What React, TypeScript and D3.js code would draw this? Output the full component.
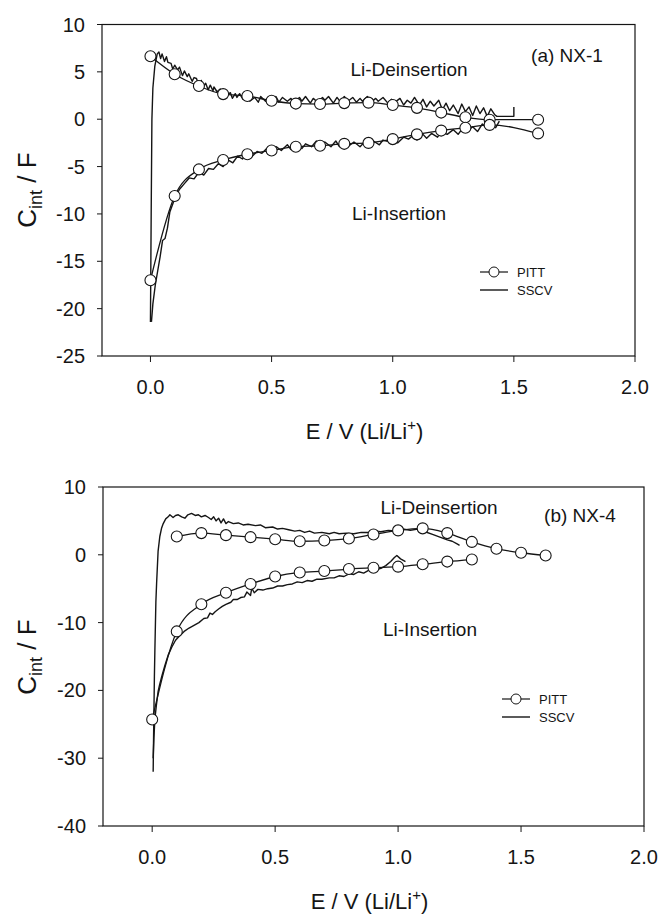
import React from 'react';
import * as d3 from 'd3';

type Pt = [number, number];

// x axis (shared)
const E_TICKS = [0, 0.5, 1.0, 1.5, 2.0];

// panel (a) NX-1
const A_Y_TICKS = [10, 5, 0, -5, -10, -15, -20, -25];
const A_PITT_E = [0, 0.1, 0.2, 0.3, 0.4, 0.5, 0.6, 0.7, 0.8, 0.9, 1.0, 1.1, 1.2, 1.3, 1.4, 1.6];
const A_PITT_DEINS = [6.65, 4.75, 3.5, 2.65, 2.45, 1.95, 1.65, 1.6, 1.7, 1.75, 1.5, 1.2, 0.7, 0.2, -0.05, -0.05];
const A_PITT_INS = [-17.0, -8.1, -5.3, -4.3, -3.7, -3.3, -2.9, -2.8, -2.6, -2.5, -2.1, -1.6, -1.2, -0.9, -0.6, -1.5];
const A_SSCV_DEINS: Pt[] = [
  [0.0, -21.4], [0.003, -10], [0.006, 0], [0.01, 3.3], [0.018, 5.6], [0.028, 6.9], [0.035, 7.1],
  [0.042, 6.4], [0.048, 6.9], [0.058, 6.1], [0.066, 6.6], [0.072, 6.0], [0.085, 5.9], [0.092, 5.3],
  [0.1, 5.7], [0.112, 5.2], [0.12, 5.5], [0.132, 4.6], [0.14, 5.1], [0.152, 4.5], [0.158, 4.8],
  [0.172, 4.0], [0.18, 4.4], [0.19, 4.3], [0.198, 3.7], [0.21, 4.1], [0.217, 3.4], [0.228, 3.8],
  [0.238, 3.1], [0.247, 3.6], [0.258, 3.0], [0.262, 3.4], [0.275, 2.9], [0.288, 3.2], [0.296, 2.5],
  [0.31, 3.0], [0.318, 2.6], [0.33, 2.8], [0.338, 2.2], [0.35, 2.7], [0.357, 2.3], [0.368, 2.7],
  [0.382, 2.1], [0.4, 2.5], [0.41, 1.9], [0.43, 2.3], [0.445, 1.8], [0.455, 2.4], [0.475, 1.9],
  [0.49, 2.2], [0.5, 1.7], [0.518, 2.4], [0.53, 1.8], [0.545, 2.3], [0.565, 1.9], [0.58, 2.2],
  [0.59, 1.7], [0.615, 2.3], [0.625, 1.9], [0.64, 2.4], [0.66, 1.7], [0.672, 2.2], [0.69, 1.8],
  [0.71, 2.3], [0.72, 2.0], [0.735, 2.4], [0.755, 1.7], [0.77, 2.3], [0.785, 1.8], [0.8, 2.4],
  [0.815, 1.9], [0.835, 2.3], [0.85, 1.8], [0.865, 2.2], [0.875, 1.9], [0.895, 2.4], [0.91, 1.8],
  [0.93, 2.2], [0.94, 1.9], [0.96, 2.3], [0.98, 1.7], [0.995, 2.1], [1.01, 1.8], [1.03, 2.2],
  [1.045, 1.5], [1.06, 2.0], [1.075, 1.7], [1.09, 2.3], [1.11, 1.5], [1.125, 2.1], [1.14, 1.3],
  [1.155, 1.9], [1.17, 1.4], [1.19, 2.0], [1.205, 1.0], [1.22, 1.7], [1.235, 0.9], [1.25, 1.5],
  [1.27, 0.6], [1.285, 1.6], [1.3, 0.8], [1.315, 1.3], [1.33, 0.4], [1.345, 1.4], [1.36, 0.6],
  [1.375, 1.2], [1.39, 0.3], [1.405, 1.1], [1.42, 0.5], [1.43, 0.3], [1.5, 0.3], [1.5, 1.3],
];
const A_SSCV_INS: Pt[] = [
  [1.44, -0.2], [1.425, -0.9], [1.41, -0.5], [1.39, -1.0], [1.37, -0.5], [1.35, -1.3], [1.33, -0.8],
  [1.31, -1.2], [1.29, -0.9], [1.27, -1.6], [1.25, -1.1], [1.225, -1.6], [1.2, -1.3], [1.185, -1.9],
  [1.16, -1.5], [1.14, -2.0], [1.125, -1.6], [1.1, -2.2], [1.08, -1.8], [1.065, -2.1], [1.045, -1.9],
  [1.02, -2.5], [1.0, -2.1], [0.985, -2.4], [0.96, -2.2], [0.945, -2.7], [0.92, -2.3], [0.9, -2.7],
  [0.88, -2.5], [0.865, -2.9], [0.84, -2.4], [0.82, -2.8], [0.8, -2.6], [0.78, -2.9], [0.765, -2.3],
  [0.745, -2.9], [0.72, -2.4], [0.705, -3.0], [0.685, -2.3], [0.665, -2.9], [0.64, -2.6], [0.625, -3.1],
  [0.6, -2.5], [0.58, -3.2], [0.565, -2.7], [0.54, -3.3], [0.52, -2.9], [0.5, -3.5], [0.48, -3.1],
  [0.46, -3.6], [0.44, -3.4], [0.42, -3.9], [0.4, -3.6], [0.38, -4.2], [0.36, -3.9], [0.34, -4.6],
  [0.32, -4.3], [0.3, -5.0], [0.28, -4.7], [0.26, -5.3], [0.24, -5.2], [0.22, -5.9], [0.2, -5.6],
  [0.18, -6.3], [0.16, -6.2], [0.14, -6.8], [0.12, -7.4], [0.1, -8.4], [0.08, -9.8], [0.07, -11.5],
  [0.06, -12.6], [0.05, -12.8], [0.04, -14.5], [0.03, -16.0], [0.02, -17.5], [0.01, -19.5], [0.004, -21.4],
];

// panel (b) NX-4
const B_Y_TICKS = [10, 0, -10, -20, -30, -40];
const B_PITT_DEINS_E = [0.1, 0.2, 0.3, 0.4, 0.5, 0.6, 0.7, 0.8, 0.9, 1.0, 1.1, 1.2, 1.3, 1.4, 1.5, 1.6];
const B_PITT_DEINS = [2.7, 3.2, 2.9, 2.6, 2.3, 2.0, 2.1, 2.4, 3.0, 3.6, 3.9, 3.2, 1.9, 0.9, 0.3, -0.1];
const B_PITT_INS_E = [0, 0.1, 0.2, 0.3, 0.4, 0.5, 0.6, 0.7, 0.8, 0.9, 1.0, 1.1, 1.2, 1.3];
const B_PITT_INS = [-24.3, -11.3, -7.3, -5.6, -4.3, -3.2, -2.6, -2.4, -2.1, -1.9, -1.75, -1.4, -1.0, -0.7];
const B_SSCV_DEINS: Pt[] = [
  [0.004, -32], [0.006, -26], [0.009, -18], [0.011, -14], [0.015, -7], [0.018, -4.2], [0.024, 0.5],
  [0.031, 2.7], [0.038, 3.9], [0.045, 4.6], [0.055, 5.3], [0.065, 5.6], [0.072, 5.9], [0.085, 5.5],
  [0.095, 5.8], [0.106, 5.9], [0.12, 5.6], [0.133, 5.4], [0.145, 5.9], [0.16, 6.1], [0.175, 5.8],
  [0.188, 5.9], [0.2, 5.6], [0.215, 5.8], [0.229, 5.5], [0.24, 5.2], [0.25, 5.6], [0.26, 5.0],
  [0.27, 5.4], [0.28, 4.7], [0.29, 5.3], [0.3, 4.6], [0.31, 4.9], [0.33, 4.6], [0.35, 4.7],
  [0.37, 4.4], [0.39, 4.5], [0.42, 4.3], [0.44, 4.4], [0.46, 4.0], [0.49, 4.1], [0.51, 3.8],
  [0.53, 3.9], [0.555, 3.7], [0.58, 3.5], [0.6, 3.6], [0.62, 3.3], [0.64, 3.5], [0.66, 3.2],
  [0.69, 3.3], [0.72, 3.1], [0.74, 3.3], [0.76, 3.1], [0.79, 3.2], [0.82, 3.1], [0.85, 3.3],
  [0.88, 3.3], [0.9, 3.5], [0.93, 3.4], [0.96, 3.6], [0.99, 3.5], [1.02, 3.8], [1.05, 3.6],
  [1.08, 3.8], [1.11, 3.4], [1.14, 3.0], [1.17, 2.6], [1.2, 2.2], [1.22, 2.0], [1.24, 1.6], [1.25, 1.4],
];
const B_SSCV_INS: Pt[] = [
  [1.03, -1.0], [1.01, -0.6], [0.995, -0.1], [0.985, -0.4], [0.97, -1.0], [0.95, -1.6], [0.93, -2.0],
  [0.91, -2.2], [0.88, -2.3], [0.86, -2.7], [0.84, -2.5], [0.82, -2.9], [0.8, -2.8], [0.78, -3.2],
  [0.76, -3.1], [0.74, -3.4], [0.72, -3.4], [0.69, -3.6], [0.67, -3.6], [0.65, -3.9], [0.63, -3.8],
  [0.61, -4.1], [0.59, -4.0], [0.57, -4.3], [0.55, -4.4], [0.53, -4.6], [0.51, -4.6], [0.49, -4.9],
  [0.47, -5.0], [0.45, -5.2], [0.43, -5.1], [0.415, -5.6], [0.405, -4.9], [0.4, -6.0], [0.385, -5.5],
  [0.375, -6.2], [0.36, -6.3], [0.345, -6.6], [0.33, -6.6], [0.32, -7.0], [0.3, -7.3], [0.285, -7.6],
  [0.27, -8.0], [0.256, -8.4], [0.245, -8.8], [0.235, -8.6], [0.225, -9.3], [0.21, -9.4], [0.19, -10.0],
  [0.17, -10.4], [0.15, -10.8], [0.13, -11.3], [0.11, -12.0], [0.095, -12.6], [0.08, -13.6],
  [0.065, -14.8], [0.052, -16.3], [0.04, -17.8], [0.03, -19.2], [0.024, -20.2], [0.017, -22.2],
  [0.011, -24.2], [0.007, -27], [0.004, -30],
];

const FONT = '"Liberation Sans", Arial, sans-serif';
const INK = '#151515';

const zip = (xs: number[], ys: number[]): Pt[] => xs.map((x, i) => [x, ys[i]]);

type PanelProps = {
  left: number; right: number; top: number; bottom: number;
  yDomain: [number, number]; yTicks: number[];
  pitt: Pt[][]; sscv: Pt[][];
  tag: string; tagPos: Pt; deinsPos: Pt; insPos: Pt; legendPos: Pt; titleY: number;
};

function Panel(p: PanelProps) {
  const x = d3.scaleLinear().domain([-0.2, 2.0]).range([p.left, p.right]);
  const y = d3.scaleLinear().domain(p.yDomain).range([p.bottom, p.top]);
  const sharp = d3.line<Pt>().x(d => x(d[0])).y(d => y(d[1]));
  const smooth = d3.line<Pt>().x(d => x(d[0])).y(d => y(d[1])).curve(d3.curveMonotoneX);
  const [lx, ly] = p.legendPos;
  const midX = (p.left + p.right) / 2;

  return (
    <g fontFamily={FONT} fill={INK}>
      <rect x={p.left} y={p.top} width={p.right - p.left} height={p.bottom - p.top}
        fill="none" stroke={INK} strokeWidth={1.2} />
      {p.yTicks.map(t => (
        <g key={'y' + t}>
          <line x1={p.left - 5} x2={p.left} y1={y(t)} y2={y(t)} stroke={INK} />
          <text x={p.left - 17} y={y(t)} dy="0.35em" textAnchor="end" fontSize={20}>{t}</text>
        </g>
      ))}
      {E_TICKS.map(t => (
        <g key={'x' + t}>
          <line x1={x(t)} x2={x(t)} y1={p.bottom} y2={p.bottom + 6} stroke={INK} />
          <text x={x(t)} y={p.bottom + 38} textAnchor="middle" fontSize={20}>{d3.format('.1f')(t)}</text>
        </g>
      ))}
      <text x={midX - 4} y={p.bottom + 83} textAnchor="middle" fontSize={22}>
        E / V (Li/Li<tspan fontSize={15} dy={-9}>+</tspan><tspan dy={9}>)</tspan>
      </text>
      <text transform={`translate(36,${p.titleY}) rotate(-90)`} textAnchor="middle" fontSize={26}>
        C<tspan fontSize={18} dy={6}>int</tspan><tspan dy={-6}> / F</tspan>
      </text>

      {p.sscv.map((s, i) => (
        <path key={'s' + i} d={sharp(s) || ''} fill="none" stroke={INK} strokeWidth={1.4} strokeLinejoin="round" />
      ))}
      {p.pitt.map((s, i) => (
        <g key={'p' + i}>
          <path d={smooth(s) || ''} fill="none" stroke={INK} strokeWidth={1.3} />
          {s.map((d, j) => (
            <circle key={j} cx={x(d[0])} cy={y(d[1])} r={5.5} fill="#fff" stroke={INK} strokeWidth={1.1} />
          ))}
        </g>
      ))}

      <text x={p.tagPos[0]} y={p.tagPos[1]} dy="0.35em" textAnchor="middle" fontSize={19}>{p.tag}</text>
      <text x={p.deinsPos[0]} y={p.deinsPos[1]} dy="0.35em" textAnchor="middle" fontSize={19}>Li-Deinsertion</text>
      <text x={p.insPos[0]} y={p.insPos[1]} dy="0.35em" textAnchor="middle" fontSize={19}>Li-Insertion</text>

      <line x1={lx} x2={lx + 28} y1={ly} y2={ly} stroke={INK} strokeWidth={1.2} />
      <circle cx={lx + 14} cy={ly} r={5} fill="#fff" stroke={INK} />
      <text x={lx + 37} y={ly} dy="0.35em" fontSize={13}>PITT</text>
      <line x1={lx} x2={lx + 28} y1={ly + 18} y2={ly + 18} stroke={INK} strokeWidth={1.4} />
      <text x={lx + 37} y={ly + 18} dy="0.35em" fontSize={13}>SSCV</text>
    </g>
  );
}

export default function App() {
  return (
    <svg width={662} height={916} style={{ position: 'absolute', left: 0, top: 0, background: '#fff' }}>
      <Panel left={102} right={635} top={24.5} bottom={356} yDomain={[-25, 10]} yTicks={A_Y_TICKS}
        pitt={[zip(A_PITT_E, A_PITT_DEINS), zip(A_PITT_E, A_PITT_INS)]}
        sscv={[A_SSCV_INS, A_SSCV_DEINS]}
        tag="(a) NX-1" tagPos={[567, 55]} deinsPos={[409, 69]} insPos={[399, 213]}
        legendPos={[480, 272]} titleY={190} />
      <Panel left={103} right={644} top={487} bottom={826} yDomain={[-40, 10]} yTicks={B_Y_TICKS}
        pitt={[zip(B_PITT_DEINS_E, B_PITT_DEINS), zip(B_PITT_INS_E, B_PITT_INS)]}
        sscv={[B_SSCV_INS, B_SSCV_DEINS]}
        tag="(b) NX-4" tagPos={[580, 515]} deinsPos={[439, 507]} insPos={[430, 629]}
        legendPos={[502, 699]} titleY={657} />
    </svg>
  );
}
